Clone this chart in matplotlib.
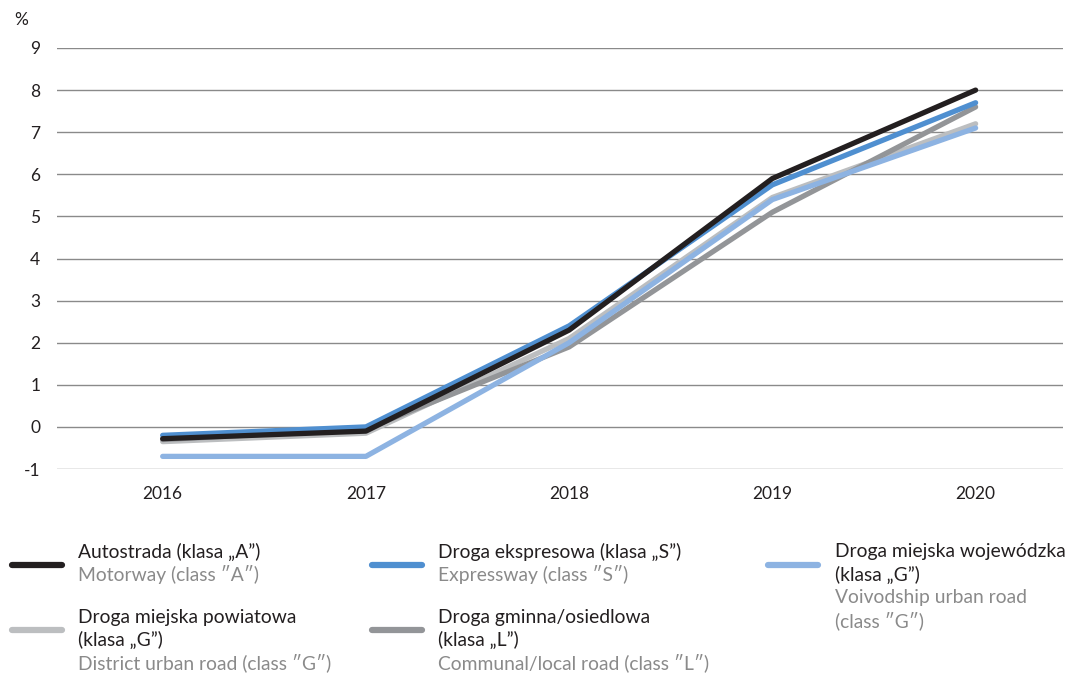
import matplotlib.pyplot as plt
from matplotlib.lines import Line2D
from matplotlib.ticker import FuncFormatter

plt.rcParams['font.family'] = ['Lato', 'DejaVu Sans']

years = [2016, 2017, 2018, 2019, 2020]
motorway = [-0.28, -0.1, 2.3, 5.9, 8.0]
expressway = [-0.2, 0.0, 2.4, 5.75, 7.7]
voivodship = [-0.7, -0.7, 2.0, 5.4, 7.1]
district = [-0.35, -0.15, 2.1, 5.45, 7.2]
communal = [-0.3, -0.05, 1.9, 5.1, 7.6]

series = [
    (district, '#bcbec0'),
    (communal, '#939598'),
    (voivodship, '#8db3e2'),
    (expressway, '#4f8fd0'),
    (motorway, '#231f20'),
]

fig = plt.figure(figsize=(10.81, 6.76), dpi=100)
ax = fig.add_axes([57 / 1081, 1 - 469 / 676, (1063 - 57) / 1081, (469 - 48) / 676])

for vals, col in series:
    ax.plot(years, vals, color=col, lw=3.8, solid_capstyle='round', solid_joinstyle='round', zorder=3)

ax.set_xlim(2015.48, 2020.43)
ax.set_ylim(-1, 9)
ax.set_yticks(range(-1, 10))
ax.yaxis.set_major_formatter(FuncFormatter(lambda v, p: f'{int(v)}'))
ax.set_xticks(years)
ax.grid(axis='y', color='#8a8a8a', lw=1)
ax.set_axisbelow(True)
for s in ax.spines.values():
    s.set_visible(False)
ax.tick_params(length=0, labelsize=12.5, colors='#231f20')
ax.tick_params(axis='y', pad=12)
ax.tick_params(axis='x', pad=12)
fig.text(14 / 1081, 1 - 20 / 676, '%', fontsize=12.5, color='#231f20', va='center')

# legend drawn by hand
W, H = 1081, 676
entries = [
    ('#231f20', 12, 565, 78, 552, ['Autostrada (klasa „A”)'], ['Motorway (class ″A″)']),
    ('#4f8fd0', 372, 565, 438, 552, ['Droga ekspresowa (klasa „S”)'], ['Expressway (class ″S″)']),
    ('#8db3e2', 768, 565, 835, 552, ['Droga miejska wojewódzka', '(klasa „G”)'],
     ['Voivodship urban road', '(class ″G″)']),
    ('#bcbec0', 12, 630, 78, 617, ['Droga miejska powiatowa', '(klasa „G”)'],
     ['District urban road (class ″G″)']),
    ('#939598', 372, 630, 438, 617, ['Droga gminna/osiedlowa', '(klasa „L”)'],
     ['Communal/local road (class ″L″)']),
]
for col, hx, hy, tx, ty, dark, light in entries:
    fig.add_artist(Line2D([hx / W, (hx + 50) / W], [1 - hy / H, 1 - hy / H],
                          color=col, lw=4.5, solid_capstyle='round'))
    y = ty
    for line in dark:
        fig.text(tx / W, 1 - y / H, line, fontsize=13.9, color='#231f20', va='center')
        y += 23
    for line in light:
        fig.text(tx / W, 1 - y / H, line, fontsize=13.9, color='#8a8a8a', va='center')
        y += 23

fig.savefig('out.png', dpi=100)
